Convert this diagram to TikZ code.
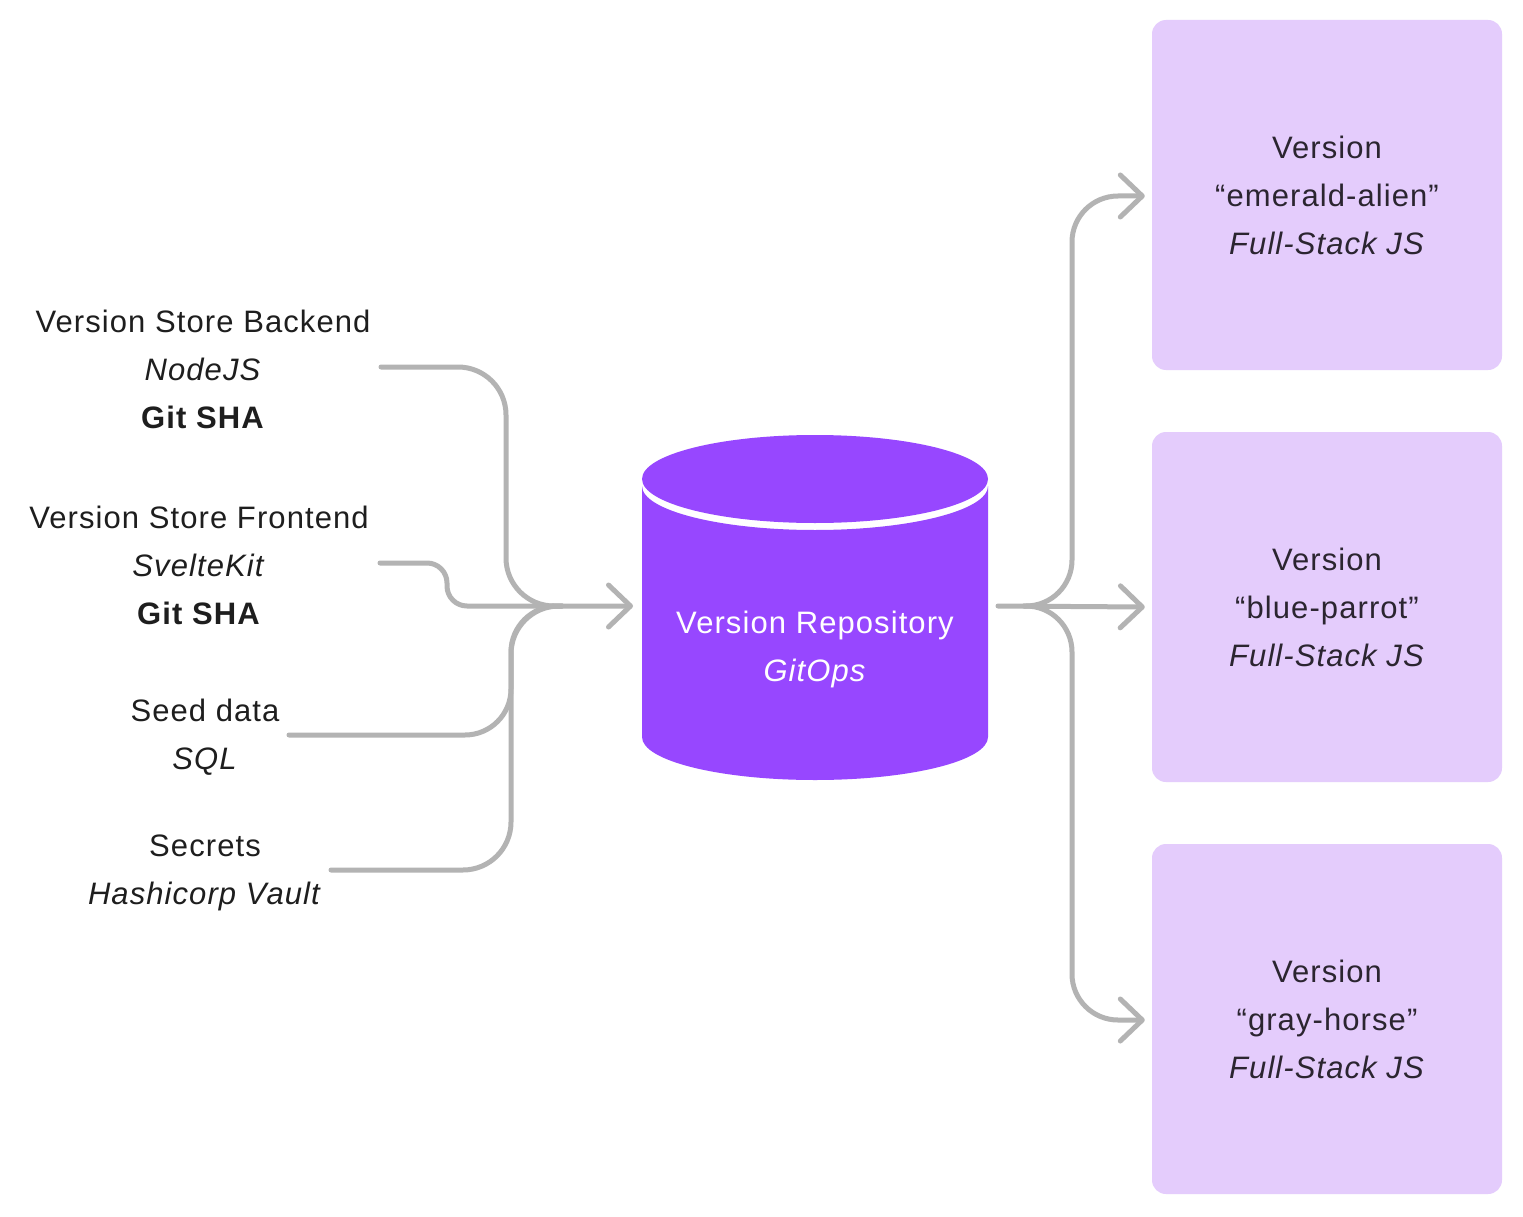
\documentclass[tikz,border=0pt]{standalone}
\usepackage{fontspec}
\setmainfont{Liberation Sans}[LetterSpace=3.5]
\usetikzlibrary{arrows.meta}
\definecolor{repoc}{HTML}{9747FF}
\definecolor{boxc}{HTML}{E4CCFC}
\definecolor{linec}{HTML}{B3B3B3}
\definecolor{txt}{HTML}{1E1E1E}
\definecolor{boxtxt}{HTML}{2B2530}
\tikzset{
  lbl/.style={align=center, text=txt, font=\fontsize{31}{48}\selectfont, inner sep=0pt},
  verbox/.style={fill=boxc, rounded corners=14pt, minimum width=350pt, minimum height=350pt,
     align=center, text=boxtxt, font=\fontsize{31}{48}\selectfont},
  conn/.style={draw=linec, line width=5pt, line cap=round, line join=round},
  arr/.style={conn, -{Straight Barb[length=22pt,width=42pt,round]}},
}
\begin{document}
\begin{tikzpicture}[x=1pt,y=-1pt]
\useasboundingbox[fill=white] (0,0) rectangle (1523,1217);

% cylinder
\fill[repoc] (642,486) arc[start angle=180,end angle=360,x radius=173pt,y radius=44pt]
   -- (988,737) arc[start angle=0,end angle=-180,x radius=173pt,y radius=43pt] -- cycle;
\fill[repoc] (815,479) ellipse[x radius=173pt,y radius=44pt];
\node[lbl, text=white] (repo) at (815,649) {Version Repository\\\textit{GitOps}};

% left labels
\node[lbl] (backend) at (203,369) {Version Store Backend\\\textit{NodeJS}\\\textbf{Git SHA}};
\node[lbl] (frontend) at (199,565) {Version Store Frontend\\\textit{SvelteKit}\\\textbf{Git SHA}};
\node[lbl] (seed) at (205,737) {Seed data\\\textit{SQL}};
\node[lbl] (secrets) at (205,873) {Secrets\\\textit{Hashicorp Vault}};

% right boxes
\node[verbox] (v1) at (1327,195) {Version\\“emerald-alien”\\\textit{Full-Stack JS}};
\node[verbox] (v2) at (1327,607) {Version\\“blue-parrot”\\\textit{Full-Stack JS}};
\node[verbox] (v3) at (1327,1019) {Version\\“gray-horse”\\\textit{Full-Stack JS}};

% connector coordinates
\coordinate (bS) at (381,367);
\coordinate (fS) at (380,563);
\coordinate (sS) at (289,735);
\coordinate (hS) at (331,870);
\coordinate (repoIn) at (633,606);
\coordinate (merge) at (562,606);
\coordinate (repoOut) at (998,606);
\coordinate (split) at (1024,606);

% left connectors
\draw[conn, rounded corners=48pt] (bS) -- (506,367) -- (506,606) -- (merge);
\draw[conn, rounded corners=46pt] (sS) -- (511,735) -- (511,606) -- (merge);
\draw[conn, rounded corners=48pt] (hS) -- (511,870) -- (511,606) -- (merge);
\draw[arr, rounded corners=20pt] (fS) -- (447,563) -- (447,606) -- (repoIn);

% right connectors
\draw[arr] (repoOut) -- ([xshift=-7pt]v2.west);
\draw[arr, rounded corners=46pt] (split) -- (1072,606) -- (1072,196) -- ([xshift=-7pt]v1.west |- 0,196);
\draw[arr, rounded corners=46pt] (split) -- (1072,606) -- (1072,1020) -- ([xshift=-7pt]v3.west |- 0,1020);
\end{tikzpicture}
\end{document}
